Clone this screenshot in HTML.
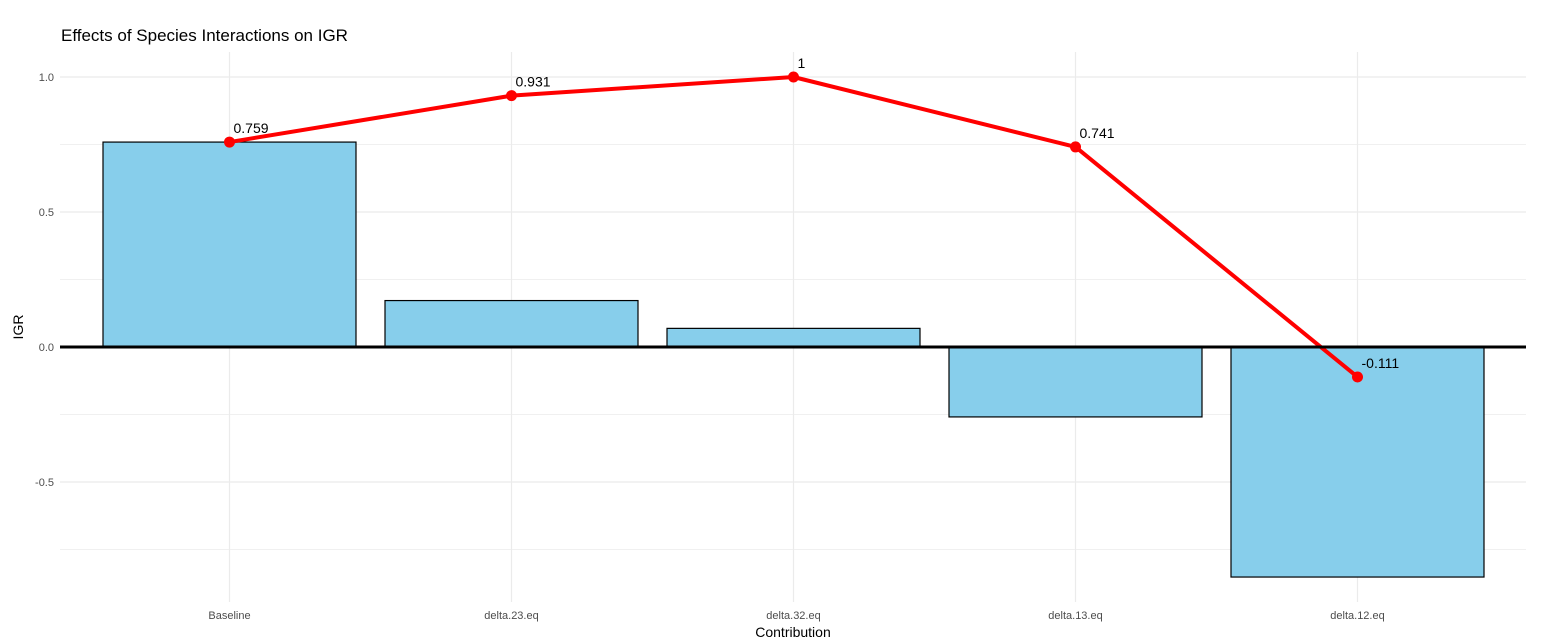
<!DOCTYPE html>
<html><head><meta charset="utf-8"><style>
body{margin:0;background:#fff;}
svg text{font-family:"Liberation Sans",Arial,sans-serif;}
</style></head><body>
<svg id="chart" width="1547" height="639" xmlns="http://www.w3.org/2000/svg">
<text x="61" y="41" font-size="17" fill="#000">Effects of Species Interactions on IGR</text>
<g id="grid"></g><g id="bars"></g><g id="line"></g><g id="axes"></g>
<text x="793" y="637" font-size="14" text-anchor="middle" fill="#000">Contribution</text>
<text transform="translate(23,327) rotate(-90)" font-size="14" text-anchor="middle" fill="#000">IGR</text>
</svg>
<script>
const categories=["Baseline","delta.23.eq","delta.32.eq","delta.13.eq","delta.12.eq"];
const barValues=[0.759,0.172,0.069,-0.259,-0.852];
const cumValues=[0.759,0.931,1,0.741,-0.111];
const cumLabels=["0.759","0.931","1","0.741","-0.111"];
const yTicks=[-0.5,0,0.5,1.0];
const yTickLabels=["-0.5","0.0","0.5","1.0"];
const yMinor=[-0.75,-0.25,0.25,0.75];
const NS="http://www.w3.org/2000/svg";
const y=v=>347-v*270;
const x=i=>229.5+i*282;
const L=60,R=1526,T=52,B=602;
function mk(tag,attrs,parent,text){const e=document.createElementNS(NS,tag);for(const k in attrs)e.setAttribute(k,attrs[k]);if(text!==undefined)e.textContent=text;parent.appendChild(e);return e;}
const grid=document.getElementById('grid'),bars=document.getElementById('bars'),line=document.getElementById('line'),axes=document.getElementById('axes');
yMinor.forEach(v=>{const e=mk('line',{x1:L,x2:R,y1:y(v),y2:y(v),stroke:'#f0f0f0','stroke-width':1},grid);

});
yTicks.forEach((v,i)=>{const e=mk('line',{x1:L,x2:R,y1:y(v),y2:y(v),stroke:'#ebebeb','stroke-width':1.2},grid);


const t=mk('text',{x:54,y:y(v)+4,'font-size':11,fill:'#4d4d4d','text-anchor':'end'},axes,yTickLabels[i]);

});
categories.forEach((c,i)=>{const g=mk('line',{x1:x(i),x2:x(i),y1:T,y2:B,stroke:'#ebebeb','stroke-width':1.2},grid);


const t=mk('text',{x:x(i),y:619,'font-size':11,fill:'#4d4d4d','text-anchor':'middle'},axes,c);


const v=barValues[i];
const r=mk('rect',{x:x(i)-126.5,y:Math.min(y(v),y(0)),width:253,height:Math.abs(y(v)-y(0)),fill:'#87ceeb',stroke:'#000','stroke-width':1.2},bars);

});
const z=mk('line',{x1:L,x2:R,y1:y(0),y2:y(0),stroke:'#000','stroke-width':3},axes);


const pl=mk('polyline',{points:cumValues.map((v,i)=>x(i)+','+y(v)).join(' '),fill:'none',stroke:'#ff0000','stroke-width':4,'stroke-linejoin':'round'},line);


cumValues.forEach((v,i)=>{const p=mk('circle',{cx:x(i),cy:y(v),r:5.5,fill:'#ff0000'},line);


const t=mk('text',{x:x(i)+4,y:y(v)-9,'font-size':14,fill:'#000'},line,cumLabels[i]);

});
</script>
</body></html>
